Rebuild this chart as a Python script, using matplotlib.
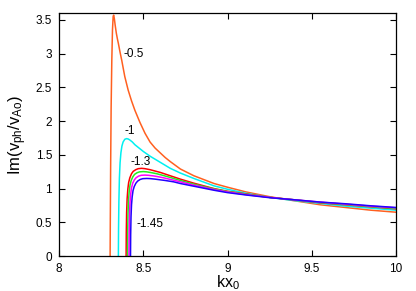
import matplotlib
matplotlib.use("Agg")
import matplotlib.pyplot as plt

plt.rcParams["font.family"] = ["Liberation Sans", "DejaVu Sans"]
plt.rcParams["mathtext.default"] = "regular"

# curves: Im(v_ph/v_Ao) against kx0
x_m05 = [8.303, 8.304, 8.306, 8.309, 8.313, 8.317, 8.321, 8.324, 8.328, 8.333, 8.34, 8.346, 8.352, 8.362,
         8.372, 8.39, 8.41, 8.43, 8.45, 8.48, 8.51, 8.54, 8.57, 8.6, 8.63, 8.66, 8.72, 8.8, 8.92, 9.0,
         9.11, 9.25, 9.37, 9.55, 9.7, 9.85, 10.0]
y_m05 = [0, 0.5, 1.3, 2.2, 2.9, 3.35, 3.55, 3.57, 3.52, 3.42, 3.30, 3.22, 3.15, 3.02,
         2.90, 2.66, 2.46, 2.30, 2.16, 1.98, 1.82, 1.69, 1.60, 1.53, 1.46, 1.40, 1.29, 1.19, 1.075, 1.02,
         0.95, 0.88, 0.83, 0.76, 0.72, 0.68, 0.65]

x_m1 = [8.352, 8.353, 8.355, 8.358, 8.362, 8.367, 8.373, 8.38, 8.39, 8.40, 8.41, 8.42, 8.435, 8.45,
        8.475, 8.5, 8.54, 8.6, 8.66, 8.72, 8.8, 8.92, 9.0, 9.11, 9.25, 9.37, 9.55, 9.7, 9.85, 10.0]
y_m1 = [0, 0.4, 0.8, 1.15, 1.38, 1.53, 1.63, 1.69, 1.73, 1.74, 1.735, 1.72, 1.69, 1.65,
        1.60, 1.55, 1.48, 1.39, 1.30, 1.23, 1.15, 1.04, 0.99, 0.93, 0.87, 0.83, 0.78, 0.74, 0.71, 0.68]

x_m13 = [8.398, 8.399, 8.401, 8.404, 8.408, 8.413, 8.42, 8.43, 8.44, 8.455, 8.47, 8.49, 8.51, 8.54,
         8.57, 8.6, 8.66, 8.72, 8.8, 8.92, 9.0, 9.11, 9.25, 9.37, 9.55, 9.7, 9.85, 10.0]
y_m13 = [0, 0.35, 0.65, 0.85, 0.99, 1.09, 1.16, 1.22, 1.255, 1.28, 1.295, 1.30, 1.295, 1.28,
         1.26, 1.24, 1.19, 1.14, 1.08, 1.00, 0.96, 0.92, 0.87, 0.84, 0.79, 0.76, 0.73, 0.70]

x_m135 = [8.406, 8.407, 8.409, 8.412, 8.416, 8.421, 8.428, 8.438, 8.448, 8.463, 8.478, 8.50, 8.52, 8.55,
          8.58, 8.61, 8.66, 8.72, 8.8, 8.92, 9.0, 9.11, 9.25, 9.37, 9.55, 9.7, 9.85, 10.0]
y_m135 = [0, 0.34, 0.62, 0.82, 0.95, 1.05, 1.12, 1.175, 1.21, 1.235, 1.248, 1.252, 1.248, 1.235,
          1.22, 1.20, 1.165, 1.12, 1.065, 0.995, 0.955, 0.915, 0.87, 0.84, 0.795, 0.765, 0.735, 0.705]

x_m14 = [8.415, 8.416, 8.418, 8.421, 8.425, 8.43, 8.437, 8.447, 8.457, 8.472, 8.488, 8.51, 8.53, 8.56,
         8.59, 8.62, 8.67, 8.72, 8.8, 8.92, 9.0, 9.11, 9.25, 9.37, 9.55, 9.7, 9.85, 10.0]
y_m14 = [0, 0.33, 0.6, 0.79, 0.92, 1.01, 1.08, 1.13, 1.16, 1.185, 1.197, 1.20, 1.197, 1.188,
         1.175, 1.16, 1.13, 1.10, 1.05, 0.985, 0.95, 0.91, 0.87, 0.84, 0.80, 0.77, 0.74, 0.715]

x_m145 = [8.424, 8.425, 8.427, 8.43, 8.434, 8.439, 8.446, 8.456, 8.466, 8.481, 8.497, 8.52, 8.54, 8.57,
          8.60, 8.63, 8.68, 8.72, 8.8, 8.92, 9.0, 9.11, 9.25, 9.37, 9.55, 9.7, 9.85, 10.0]
y_m145 = [0, 0.32, 0.58, 0.76, 0.88, 0.97, 1.03, 1.08, 1.11, 1.135, 1.147, 1.15, 1.148, 1.14,
          1.13, 1.12, 1.10, 1.075, 1.035, 0.975, 0.94, 0.905, 0.865, 0.84, 0.80, 0.775, 0.745, 0.72]

curves = [(x_m05, y_m05, "#ff6020"), (x_m1, y_m1, "#00f0f0"), (x_m13, y_m13, "#ff0000"),
          (x_m135, y_m135, "#22ee22"), (x_m14, y_m14, "#ff00ff"), (x_m145, y_m145, "#2200ff")]

# curve labels and where they sit
label_text = ["-0.5", "-1", "-1.3", "-1.45"]
label_x = [8.38, 8.39, 8.425, 8.46]
label_y = [3.0, 1.86, 1.40, 0.47]

x_ticks = [8, 8.5, 9, 9.5, 10]
x_tick_labels = ["8", "8.5", "9", "9.5", "10"]
y_ticks = [0, 0.5, 1, 1.5, 2, 2.5, 3, 3.5]
y_tick_labels = ["0", "0.5", "1", "1.5", "2", "2.5", "3", "3.5"]

fig = plt.figure(figsize=(4.16, 2.91), dpi=100)
ax = fig.add_axes([0.142, 0.12, 0.81, 0.835])

for xs, ys, c in curves:
    ax.plot(xs, ys, color=c, lw=1.1)

for t, lx, ly in zip(label_text, label_x, label_y):
    ax.text(lx, ly, t, ha="left", va="center", fontsize=8.5)

ax.set_xlim(8, 10)
ax.set_ylim(0, 3.6)
ax.set_xticks(x_ticks)
ax.set_xticklabels(x_tick_labels)
ax.set_yticks(y_ticks)
ax.set_yticklabels(y_tick_labels)
ax.tick_params(direction="in", length=4, width=0.8, labelsize=8.5, top=True, right=True, pad=5)
for s in ax.spines.values():
    s.set_linewidth(0.9)

ax.set_xlabel("kx$_0$", fontsize=11.5, labelpad=-1)
ax.set_ylabel("Im(v$_{ph}$/v$_{Ao}$)", fontsize=12, labelpad=5)

fig.savefig("out.png", dpi=100)
